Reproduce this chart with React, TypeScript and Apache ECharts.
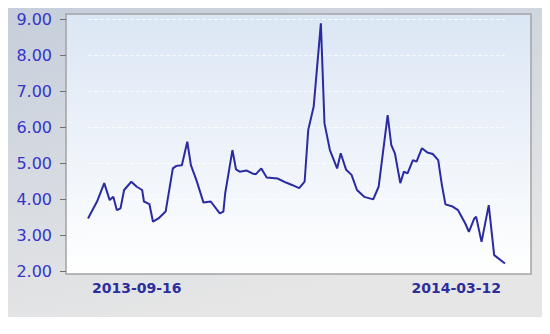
import React, { useEffect, useRef } from "react";
import * as echarts from "echarts";

const dates = [
  "2013-08-20", "2013-08-25", "2013-08-29", "2013-09-01", "2013-09-03", "2013-09-05", "2013-09-07",
  "2013-09-09", "2013-09-13", "2013-09-16", "2013-09-19", "2013-09-20", "2013-09-23", "2013-09-25",
  "2013-09-28", "2013-10-02", "2013-10-06", "2013-10-08", "2013-10-11", "2013-10-14", "2013-10-16",
  "2013-10-19", "2013-10-23", "2013-10-27", "2013-11-01", "2013-11-03", "2013-11-04", "2013-11-08",
  "2013-11-10", "2013-11-12", "2013-11-16", "2013-11-19", "2013-11-21", "2013-11-24", "2013-11-27",
  "2013-12-03", "2013-12-08", "2013-12-11", "2013-12-15", "2013-12-18", "2013-12-20", "2013-12-23",
  "2013-12-27", "2013-12-29", "2014-01-01", "2014-01-05", "2014-01-07", "2014-01-10", "2014-01-13",
  "2014-01-16", "2014-01-20", "2014-01-25", "2014-01-28", "2014-02-02", "2014-02-04", "2014-02-06",
  "2014-02-09", "2014-02-11", "2014-02-13", "2014-02-16", "2014-02-18", "2014-02-21", "2014-02-24",
  "2014-02-27", "2014-03-02", "2014-03-04", "2014-03-06", "2014-03-10", "2014-03-13", "2014-03-17",
  "2014-03-19", "2014-03-22", "2014-03-23", "2014-03-26", "2014-03-30", "2014-04-02", "2014-04-08",
];

const values = [
  3.46, 3.93, 4.44, 3.97, 4.06, 3.69, 3.74,
  4.25, 4.48, 4.34, 4.25, 3.93, 3.86, 3.37,
  3.46, 3.65, 4.85, 4.92, 4.94, 5.59, 4.94,
  4.53, 3.9, 3.93, 3.6, 3.65, 4.16, 5.36,
  4.82, 4.76, 4.79, 4.71, 4.69, 4.85, 4.6,
  4.57, 4.45, 4.39, 4.3, 4.48, 5.92, 6.56,
  8.88, 6.1, 5.36, 4.85, 5.27, 4.81, 4.67,
  4.25, 4.06, 3.99, 4.34, 6.33, 5.5, 5.27,
  4.44, 4.76, 4.71, 5.08, 5.04, 5.41, 5.29,
  5.25, 5.08, 4.4, 3.85, 3.79, 3.69, 3.32,
  3.09, 3.46, 3.51, 2.81, 3.83, 2.44, 2.21,
];

const xLabelDates = ["2013-09-16", "2014-03-12"];
const yMin = 2;
const yMax = 9;
const yStep = 1;

export default function App() {
  const ref = useRef<HTMLDivElement>(null);

  useEffect(() => {
    if (!ref.current) return;
    const chart = echarts.init(ref.current, undefined, { renderer: "svg" });
    const ts = (d: string) => new Date(d + "T00:00:00Z").getTime();
    const pad = (n: number) => (n < 10 ? "0" + n : "" + n);
    chart.setOption({
      animation: false,
      backgroundColor: "#ffffff",
      graphic: [
        {
          type: "rect",
          z: -10,
          silent: true,
          shape: { x: 0, y: 5, width: 544, height: 312 },
          style: {
            fill: new echarts.graphic.LinearGradient(0, 0, 0.35, 1, [
              { offset: 0, color: "#c5cedb" },
              { offset: 1, color: "#e6e6e6" },
            ]),
          },
        },
        {
          type: "rect",
          z: -9,
          silent: true,
          shape: { x: 66, y: 14, width: 465, height: 260 },
          style: {
            fill: new echarts.graphic.LinearGradient(0, 0, 0, 1, [
              { offset: 0, color: "#dbe6f4" },
              { offset: 1, color: "#ffffff" },
            ]),
            stroke: "#a3a3a3",
            lineWidth: 1.5,
          },
        },
      ],
      grid: { left: 88, right: 45, top: 19, bottom: 63 },
      xAxis: {
        type: "value",
        min: ts(dates[0]),
        max: ts(dates[dates.length - 1]),
        axisLine: { show: false },
        axisTick: { show: false },
        splitLine: { show: false },
        axisLabel: {
          customValues: xLabelDates.map(ts),
          margin: 10,
          color: "#2d2d9c",
          fontFamily: "DejaVu Sans",
          fontWeight: "bold",
          fontSize: 14,
          formatter: (v: number) => {
            const d = new Date(v);
            return d.getUTCFullYear() + "-" + pad(d.getUTCMonth() + 1) + "-" + pad(d.getUTCDate());
          },
        },
      },
      yAxis: {
        type: "value",
        min: yMin,
        max: yMax,
        interval: yStep,
        offset: 22,
        axisLine: { show: false },
        axisTick: { show: true, length: 6, inside: false, lineStyle: { color: "#707070", width: 1 } },
        splitLine: { show: true, lineStyle: { color: "rgba(255,255,255,0.7)", type: "dashed" } },
        axisLabel: {
          margin: 14,
          color: "#3535c8",
          fontFamily: "DejaVu Sans",
          fontSize: 16,
          formatter: (v: number) => v.toFixed(2),
        },
      },
      series: [
        {
          type: "line",
          data: dates.map((d, i) => [ts(d), values[i]]),
          showSymbol: false,
          lineStyle: { color: "#2a2aa2", width: 2 },
        },
      ],
    });
    return () => chart.dispose();
  }, []);

  return <div ref={ref} style={{ width: 550, height: 334, margin: -8 }} />;
}
